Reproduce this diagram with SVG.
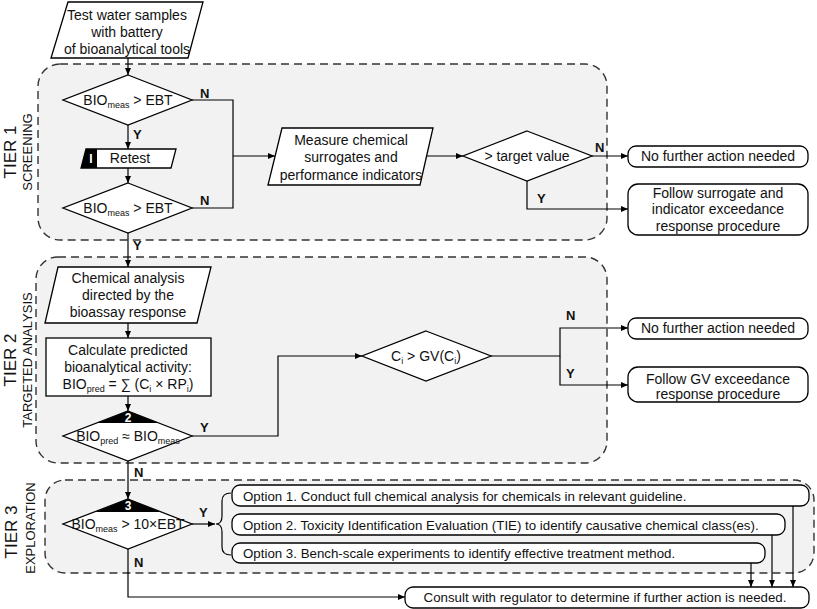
<svg xmlns="http://www.w3.org/2000/svg" width="817" height="609" viewBox="0 0 817 609">
<defs>
<marker id="ah" markerUnits="userSpaceOnUse" markerWidth="8" markerHeight="7" refX="7" refY="3" orient="auto"><path d="M0,0 L7,3 L0,6 z" fill="#000"/></marker>
<style>
.tier{fill:#f2f2f2;stroke:#333;stroke-width:1.4;stroke-dasharray:8 5}
.nd{fill:#fff;stroke:#000;stroke-width:1.3}
.blk{fill:#000;stroke:none}
.ln{fill:none;stroke:#000;stroke-width:1.2}
.ar{fill:none;stroke:#000;stroke-width:1.2;marker-end:url(#ah)}
text{font-family:"Liberation Sans Narrow","Liberation Sans",sans-serif;font-size:14px;fill:#111}
.c{text-anchor:middle}
.opt{font-size:13.3px}
.lb{font-weight:bold;font-size:13px}
.wn{font-weight:bold;font-size:12px;fill:#fff;text-anchor:middle}
.t1{font-size:17px;text-anchor:middle}
.t2{font-size:13px;text-anchor:middle}
.sub{font-size:9px}
</style>
</defs>
<g id="tiers">
<rect class="tier" x="38" y="64" width="569" height="176" rx="22"/>
<rect class="tier" x="36" y="257" width="571" height="206" rx="22"/>
<rect class="tier" x="45" y="480" width="769" height="93" rx="20"/>
<text class="t1" transform="translate(16,152) rotate(-90)">TIER 1</text>
<text class="t2" transform="translate(32,152) rotate(-90)">SCREENING</text>
<text class="t1" transform="translate(16,360) rotate(-90)">TIER 2</text>
<text class="t2" transform="translate(32,360) rotate(-90)">TARGETED ANALYSIS</text>
<text class="t1" transform="translate(17,532) rotate(-90)">TIER 3</text>
<text class="t2" transform="translate(35,528) rotate(-90)">EXPLORATION</text>
</g>
<g id="connectors">
<path class="ar" d="M128,58 V75"/>
<path class="ar" d="M128,125 V149"/>
<path class="ar" d="M128,168 V183"/>
<path class="ln" d="M192,100 H233 V208 H192"/>
<path class="ar" d="M233,156 H275"/>
<path class="ar" d="M427,156 H463"/>
<path class="ar" d="M592,156 H628"/>
<path class="ar" d="M527,181 V209 H628"/>
<path class="ar" d="M128,233 V267"/>
<path class="ar" d="M128,323 V338"/>
<path class="ar" d="M128,396 V411"/>
<path class="ar" d="M192,436 H278 V356 H362"/>
<path class="ar" d="M491,356 H560 V328 H628"/>
<path class="ar" d="M560,356 V385 H628"/>
<path class="ar" d="M128,461 V499"/>
<path class="ar" d="M192,524 H215"/>
<path class="ln" d="M231,493 Q222,493 222,501 V516 Q222,524 216,524 Q222,524 222,532 V547 Q222,555 231,555"/>
<path class="ar" d="M128,549 V597 H405"/>
<path class="ar" d="M793,506 V587"/>
<path class="ar" d="M772,535 V587"/>
<path class="ar" d="M751,563 V587"/>
<text class="lb" x="200" y="98">N</text>
<text class="lb" x="200" y="205">N</text>
<text class="lb" x="133" y="139">Y</text>
<text class="lb" x="595" y="152">N</text>
<text class="lb" x="537" y="203">Y</text>
<text class="lb" x="133" y="250">Y</text>
<text class="lb" x="200" y="432">Y</text>
<text class="lb" x="566" y="320">N</text>
<text class="lb" x="566" y="378">Y</text>
<text class="lb" x="134" y="477">N</text>
<text class="lb" x="199" y="517">Y</text>
<text class="lb" x="134" y="567">N</text>
</g>
<g id="start">
<polygon class="nd" points="68,2 203,2 188,58 51,58"/>
<text class="c" x="127" y="20">Test water samples</text>
<text class="c" x="127" y="37">with battery</text>
<text class="c" x="127" y="54">of bioanalytical tools</text>
</g>
<g id="check1">
<polygon class="nd" points="128,75 192,100 128,125 63,100"/>
<text class="c" x="128" y="105">BIO<tspan class="sub" dy="3">meas</tspan><tspan dy="-3"> &gt; EBT</tspan></text>
</g>
<g id="retest">
<polygon class="nd" points="86,149 176,149 171,168 81,168"/>
<polygon class="blk" points="86,149 97,149 97,168 81,168"/>
<text class="wn" x="91" y="163">I</text>
<text class="c" x="130" y="163">Retest</text>
</g>
<g id="check2">
<polygon class="nd" points="128,183 192,208 128,233 63,208"/>
<text class="c" x="128" y="213">BIO<tspan class="sub" dy="3">meas</tspan><tspan dy="-3"> &gt; EBT</tspan></text>
</g>
<g id="measure">
<polygon class="nd" points="282,128 433,128 420,185 268,185"/>
<text class="c" x="351" y="145">Measure chemical</text>
<text class="c" x="351" y="162">surrogates and</text>
<text class="c" x="351" y="180">performance indicators</text>
</g>
<g id="target">
<polygon class="nd" points="527,131 592,156 527,181 463,156"/>
<text class="c" x="527" y="161">&gt; target value</text>
</g>
<g id="nofurther1">
<rect class="nd" x="628" y="146" width="180" height="21" rx="8"/>
<text class="c" x="718" y="161">No further action needed</text>
</g>
<g id="follow1">
<rect class="nd" x="628" y="184" width="180" height="51" rx="10"/>
<text class="c" x="718" y="198">Follow surrogate and</text>
<text class="c" x="718" y="214">indicator exceedance</text>
<text class="c" x="718" y="231">response procedure</text>
</g>
<g id="chem">
<polygon class="nd" points="58,267 211,267 197,323 45,323"/>
<text class="c" x="128" y="283">Chemical analysis</text>
<text class="c" x="128" y="300">directed by the</text>
<text class="c" x="128" y="317">bioassay response</text>
</g>
<g id="calc">
<rect class="nd" x="46" y="338" width="165" height="58"/>
<text class="c" x="128" y="355">Calculate predicted</text>
<text class="c" x="128" y="372">bioanalytical activity:</text>
<text class="c" x="128" y="389">BIO<tspan class="sub" dy="3">pred</tspan><tspan dy="-3"> = ∑ (C</tspan><tspan class="sub" dy="3">i</tspan><tspan dy="-3"> × RP</tspan><tspan class="sub" dy="3">i</tspan><tspan dy="-3">)</tspan></text>
</g>
<g id="check3">
<polygon class="nd" points="128,411 192,436 128,461 63,436"/>
<polygon class="blk" points="128,411 159,423 97,423"/>
<text class="wn" x="128" y="422">2</text>
<text class="c" x="128" y="441">BIO<tspan class="sub" dy="3">pred</tspan><tspan dy="-3"> ≈ BIO</tspan><tspan class="sub" dy="3">meas</tspan></text>
</g>
<g id="gv">
<polygon class="nd" points="426,331 491,356 426,381 362,356"/>
<text class="c" x="426" y="361">C<tspan class="sub" dy="3">i</tspan><tspan dy="-3"> &gt; GV(C</tspan><tspan class="sub" dy="3">i</tspan><tspan dy="-3">)</tspan></text>
</g>
<g id="nofurther2">
<rect class="nd" x="628" y="318" width="180" height="21" rx="8"/>
<text class="c" x="718" y="333">No further action needed</text>
</g>
<g id="follow2">
<rect class="nd" x="628" y="367" width="180" height="35" rx="10"/>
<text class="c" x="718" y="384">Follow GV exceedance</text>
<text class="c" x="718" y="399">response procedure</text>
</g>
<g id="check4">
<polygon class="nd" points="128,499 192,524 128,549 63,524"/>
<polygon class="blk" points="128,499 161,512 95,512"/>
<text class="wn" x="128" y="510">3</text>
<text class="c" x="128" y="529">BIO<tspan class="sub" dy="3">meas</tspan><tspan dy="-3"> &gt; 10×EBT</tspan></text>
</g>
<g id="option1">
<rect class="nd" x="232" y="485" width="577" height="21" rx="8"/>
<text class="opt" x="243" y="501">Option 1. Conduct full chemical analysis for chemicals in relevant guideline.</text>
</g>
<g id="option2">
<rect class="nd" x="232" y="514" width="553" height="21" rx="8"/>
<text class="opt" x="243" y="530">Option 2. Toxicity Identification Evaluation (TIE) to identify causative chemical class(es).</text>
</g>
<g id="option3">
<rect class="nd" x="232" y="543" width="533" height="20" rx="8"/>
<text class="opt" x="243" y="558">Option 3. Bench-scale experiments to identify effective treatment method.</text>
</g>
<g id="consult">
<rect class="nd" x="405" y="587" width="404" height="21" rx="8"/>
<text class="c opt" x="605" y="602">Consult with regulator to determine if further action is needed.</text>
</g>
</svg>
